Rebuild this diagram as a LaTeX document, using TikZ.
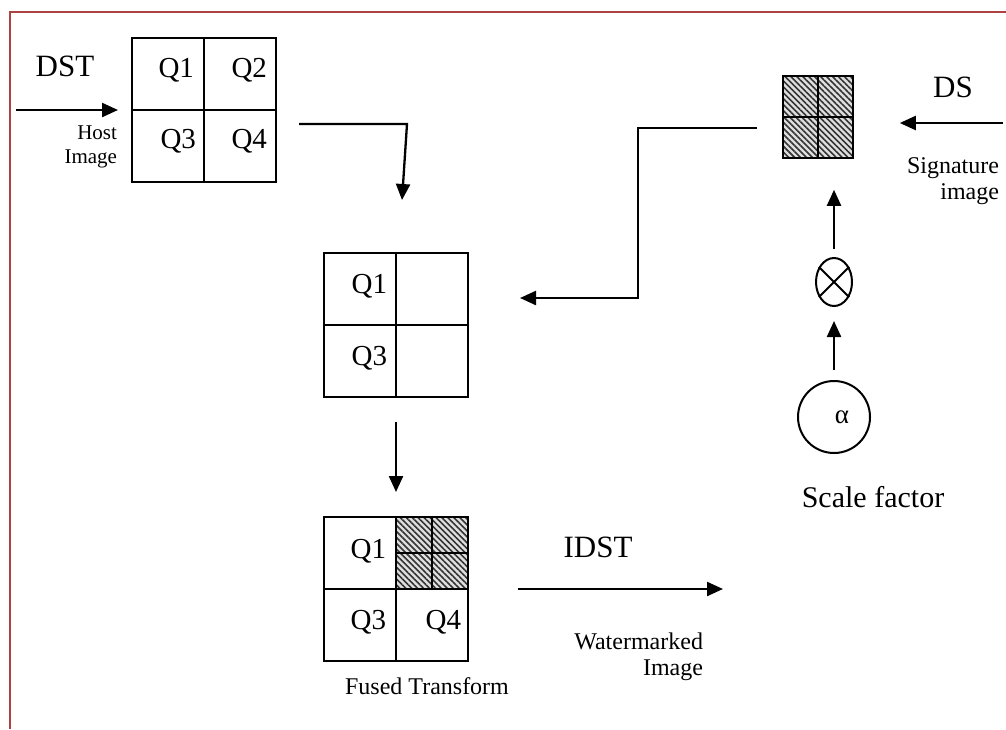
\documentclass[tikz,border=0pt]{standalone}
\usepackage{fontspec}
\setmainfont{Liberation Serif}
\usetikzlibrary{arrows.meta, shapes.geometric, patterns.meta}
\definecolor{framered}{RGB}{172,66,66}
\tikzset{
    quadbox/.style={draw, rectangle, minimum width=144pt, minimum height=144pt, inner sep=0pt, line width=2pt},
    sigbox/.style={draw, rectangle, minimum width=70pt, minimum height=82pt, inner sep=0pt, line width=2pt, preaction={fill=gray!25}, pattern={Lines[angle=-45, distance=4.2pt, line width=1.6pt]}, pattern color=black!80},
    qlabel/.style={anchor=base east, inner sep=0pt, font=\fontsize{29}{34}\selectfont},
    biglabel/.style={anchor=base, inner sep=0pt, font=\fontsize{31}{36}\selectfont},
    smalllabel/.style={anchor=east, inner sep=0pt, align=right, font=\fontsize{21}{24}\selectfont},
    midlabel/.style={inner sep=0pt, align=right, font=\fontsize{24}{26}\selectfont},
    arrow/.style={->, line width=2.3pt}
}
\begin{document}
\begin{tikzpicture}[x=1pt, y=-1pt, >={Triangle[length=16pt, width=14pt]}, line width=2pt]
        \useasboundingbox (0,0) rectangle (1006,729);

        % -----------------------------------------------------------------
        % CORNICE
        % -----------------------------------------------------------------
        \draw[framered, line width=2.6pt] (10,729) -- (10,12) -- (1006,12);

        % -----------------------------------------------------------------
        % HOST IMAGE (DST)
        % -----------------------------------------------------------------
        \node[quadbox] (host) at (204,110) {};
        \draw (host.north) -- (host.south) (host.west) -- (host.east);
        \node[qlabel] (hq1) at (195,77) {Q1};
        \node[qlabel] (hq2) at (268,77) {Q2};
        \node[qlabel] (hq3) at (197,148) {Q3};
        \node[qlabel] (hq4) at (268,148) {Q4};
        \node[biglabel] (dst) at (65,76) {DST};
        \node[smalllabel] (hostlbl) at (118,147) {Host\\Image};
        \coordinate (dstin) at (16,110);
        \draw[arrow, shorten >=13pt] (dstin) -- (host.west);

        % -----------------------------------------------------------------
        % SIGNATURE IMAGE (DS)
        % -----------------------------------------------------------------
        \node[sigbox] (sig) at (818,117) {};
        \draw (sig.north) -- (sig.south) (sig.west) -- (sig.east);
        \node[biglabel] (ds) at (953,97) {DS};
        \node[midlabel, anchor=east] (siglbl) at (1000,181) {Signature\\image};
        \coordinate (dsin) at (1003,123);
        \draw[arrow, shorten >=46pt] (dsin) -- (dsin -| sig.east);

        % -----------------------------------------------------------------
        % SCALE FACTOR
        % -----------------------------------------------------------------
        \node[draw, ellipse, minimum width=36pt, minimum height=48pt, inner sep=0pt] (mult) at (834,282) {};
        \draw (mult.45) -- (mult.225) (mult.135) -- (mult.315);
        \node[draw, circle, minimum size=72pt, inner sep=0pt, font=\fontsize{27}{30}\selectfont] (alpha) at (834,417) {\raisebox{-5pt}{\hspace{16pt}α}};
        \node[anchor=base, inner sep=0pt, font=\fontsize{30}{36}\selectfont] (scale) at (873,507) {Scale factor};
        \draw[arrow, shorten <=10pt, shorten >=14pt] (alpha.north) -- (mult.south);
        \draw[arrow, shorten <=8pt, shorten >=31pt] (mult.north) -- (mult.north |- sig.south);

        % -----------------------------------------------------------------
        % Q1 / Q3
        % -----------------------------------------------------------------
        \node[quadbox] (mid) at (396,325) {};
        \draw (mid.north) -- (mid.south) (mid.west) -- (mid.east);
        \node[qlabel] (mq1) at (388,293) {Q1};
        \node[qlabel] (mq3) at (388,365) {Q3};

        \coordinate (h1) at (407,124);
        \coordinate (h2) at (402,200);
        \draw[arrow, shorten <=22pt] (h1 -| host.east) -- (h1) -- (h2);

        \coordinate (s1) at (638,128);
        \coordinate (s2) at (638,298);
        \draw[arrow, shorten <=25pt, shorten >=51pt] (s1 -| sig.west) -- (s1) -- (s2) -- (s2 -| mid.east);

        % -----------------------------------------------------------------
        % FUSED TRANSFORM
        % -----------------------------------------------------------------
        \node[quadbox] (fused) at (396,589) {};
        \node[sigbox, minimum width=72pt, minimum height=72pt] (fq2) at (432,553) {};
        \draw (fq2.north) -- (fq2.south) (fq2.west) -- (fq2.east);
        \draw (fused.north) -- (fused.south) (fused.west) -- (fused.east);
        \node[qlabel] (fq1) at (387,558) {Q1};
        \node[qlabel] (fq3) at (387,629) {Q3};
        \node[qlabel] (fq4) at (462,629) {Q4};
        \node[midlabel, anchor=base] (fusedlbl) at (427,694) {Fused Transform};
        \draw[arrow, shorten <=24pt, shorten >=24pt] (mid.south) -- (fused.north);

        \node[biglabel] (idst) at (598,557) {IDST};
        \node[midlabel, anchor=east] (wmlbl) at (704,657) {Watermarked\\Image};
        \coordinate (wmout) at (723,589);
        \draw[arrow, shorten <=49pt] (fused.east) -- (wmout);

\end{tikzpicture}
\end{document}
